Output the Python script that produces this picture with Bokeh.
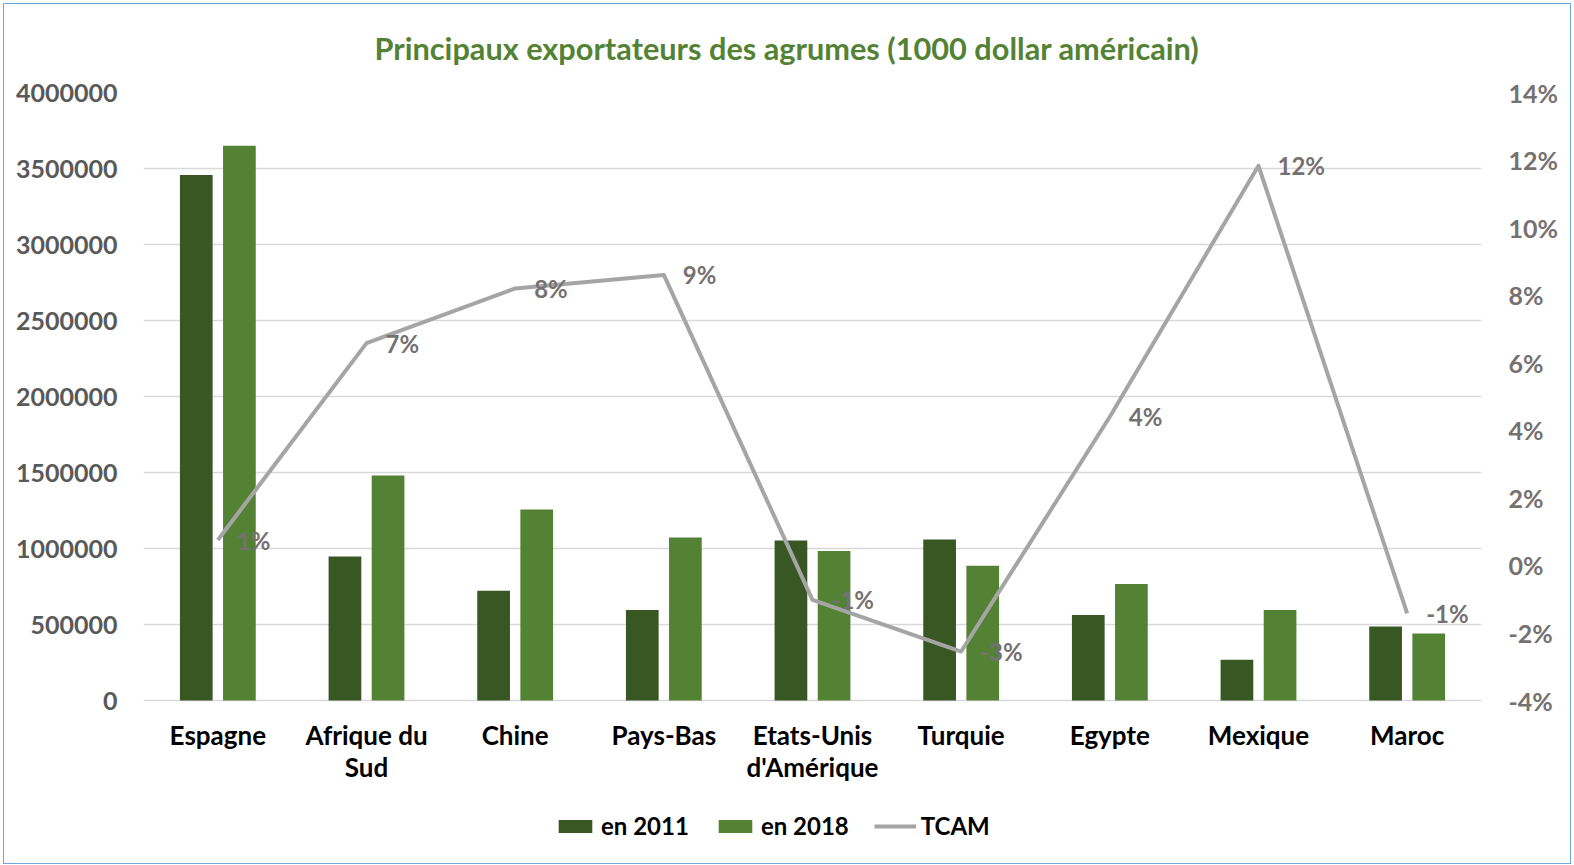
from bokeh.plotting import figure
from bokeh.models import (ColumnDataSource, FactorRange, Range1d, LinearAxis, FixedTicker,
                          NumeralTickFormatter, LabelSet, Title, Legend, LegendItem,
                          InlineStyleSheet)
from bokeh.transform import dodge
from bokeh.core.properties import value
from bokeh.embed import file_html
from bokeh.resources import INLINE

# ---- data ----
countries = ["Espagne", "Afrique du\nSud", "Chine", "Pays-Bas", "Etats-Unis\nd'Amérique",
             "Turquie", "Egypte", "Mexique", "Maroc"]
exports_2011 = [3458000, 947000, 722000, 596000, 1052000, 1059000, 562000, 268000, 487000]
exports_2018 = [3650000, 1480000, 1257000, 1072000, 983000, 886000, 766000, 595000, 441000]
tcam = [0.0075, 0.0658, 0.0820, 0.0860, -0.0102, -0.0255, 0.0440, 0.1183, -0.0142]
tcam_labels = [f"{round(v * 100):.0f}%" for v in tcam]
left_ticks = [0, 500000, 1000000, 1500000, 2000000, 2500000, 3000000, 3500000, 4000000]
right_ticks = [-0.04, -0.02, 0.0, 0.02, 0.04, 0.06, 0.08, 0.10, 0.12, 0.14]
title_text = "Principaux exportateurs des agrumes (1000 dollar américain)"
series_names = ["en 2011", "en 2018", "TCAM"]

FONT = "Lato"
DARK = "#385723"
LIGHT = "#548235"
LINE = "#A5A5A5"
GRID = "#D9D9D9"

# ---- layout (pixels) ----
W, H = 1572, 864
FRAME_L, FRAME_R, FRAME_T, FRAME_B = 143, 1481, 92, 858   # frame box on the canvas
AXIS_ZERO = 700                                            # pixel row of the value 0
L_MAX, L_MIN = max(left_ticks), min(left_ticks)
R_MAX, R_MIN = max(right_ticks), min(right_ticks)
extra = (FRAME_B - AXIS_ZERO) / (AXIS_ZERO - FRAME_T)      # room below the axis
left_lo = L_MIN - extra * (L_MAX - L_MIN)
right_lo = R_MIN - extra * (R_MAX - R_MIN)

line1 = [c.split("\n")[0] for c in countries]
line2 = [c.split("\n")[1] if "\n" in c else "" for c in countries]

src = ColumnDataSource(dict(cat=countries, y11=exports_2011, y18=exports_2018,
                            tcam=tcam, lab=tcam_labels, zero=[0] * len(countries),
                            l1=line1, l2=line2))

p = figure(width=W, height=H, x_range=FactorRange(factors=countries, range_padding=0),
           y_range=Range1d(left_lo, L_MAX), output_backend="svg", toolbar_location=None,
           min_border_left=FRAME_L, min_border_right=W - FRAME_R, min_border_top=FRAME_T,
           min_border_bottom=H - FRAME_B)
p.extra_y_ranges = {"pct": Range1d(right_lo, R_MAX)}
p.outline_line_color = None
p.background_fill_color = "white"
p.border_fill_color = "white"
p.stylesheets = [InlineStyleSheet(css=""":host { position: relative; }
:host::after { content: ""; position: absolute; left: 3px; top: 3px; right: 1px; bottom: 0px;
  border: 1.5px solid #6FA8DC; pointer-events: none; z-index: 1000; }""")]

r11 = p.vbar(x=dodge("cat", -0.145, range=p.x_range), top="y11", width=0.22, source=src,
             fill_color=DARK, line_color=None)
r18 = p.vbar(x=dodge("cat", 0.145, range=p.x_range), top="y18", width=0.22, source=src,
             fill_color=LIGHT, line_color=None)
rl = p.line(x="cat", y="tcam", source=src, y_range_name="pct", line_color=LINE,
            line_width=4, line_join="round")

labels = LabelSet(x="cat", y="tcam", text="lab", source=src, y_range_name="pct",
                  x_offset=19, text_align="left", text_baseline="middle",
                  text_font=value(FONT), text_font_style="bold", text_font_size="24px",
                  text_color="#767171")
p.add_layout(labels)

# category labels (drawn below the zero line), one LabelSet per text line
for col, off in (("l1", -18), ("l2", -50)):
    p.add_layout(LabelSet(x="cat", y="zero", text=col, source=src, y_offset=off,
                          text_align="center", text_baseline="top",
                          text_font=value(FONT), text_font_style="bold",
                          text_font_size="26px", text_color="black"))
p.xaxis.visible = False

# grid / axes
p.xgrid.grid_line_color = None
p.ygrid.grid_line_color = GRID
p.ygrid.grid_line_width = 1.5
p.ygrid.ticker = FixedTicker(ticks=left_ticks)

ay = p.yaxis[0]
ay.ticker = FixedTicker(ticks=left_ticks)
ay.formatter = NumeralTickFormatter(format="0")
ay.axis_line_color = None
ay.major_tick_line_color = None
ay.minor_tick_line_color = None
ay.major_tick_out = 0
ay.major_tick_in = 0
ay.minor_tick_out = 0
ay.major_label_standoff = 26
ay.major_label_text_font = FONT
ay.major_label_text_font_style = "bold"
ay.major_label_text_font_size = "25px"
ay.major_label_text_color = "#595959"

ay2 = LinearAxis(y_range_name="pct", ticker=FixedTicker(ticks=right_ticks),
                 formatter=NumeralTickFormatter(format="0%"))
ay2.axis_line_color = None
ay2.major_tick_line_color = None
ay2.minor_tick_line_color = None
ay2.major_tick_out = 0
ay2.major_tick_in = 0
ay2.minor_tick_out = 0
ay2.major_label_standoff = 27
ay2.major_label_text_font = FONT
ay2.major_label_text_font_style = "bold"
ay2.major_label_text_font_size = "25px"
ay2.major_label_text_color = "#767171"
p.add_layout(ay2, "right")

# title
title = Title(text=title_text, align="left", offset=231, standoff=52, text_font=FONT,
              text_font_style="bold", text_font_size="30.7px", text_color=LIGHT)
p.add_layout(title, "above")

legend = Legend(items=[LegendItem(label=series_names[0], renderers=[r11]),
                       LegendItem(label=series_names[1], renderers=[r18]),
                       LegendItem(label=series_names[2], renderers=[rl])],
                orientation="horizontal", location=(411, 18),
                glyph_width=42, glyph_height=16, label_standoff=5, spacing=25,
                padding=0, margin=0, border_line_color=None, background_fill_alpha=0,
                label_height=20, label_text_font=FONT, label_text_font_style="bold",
                label_text_font_size="24px", label_text_color="black",
                label_text_baseline="middle")
p.add_layout(legend)

open("out.html", "w").write(file_html(p, INLINE))
